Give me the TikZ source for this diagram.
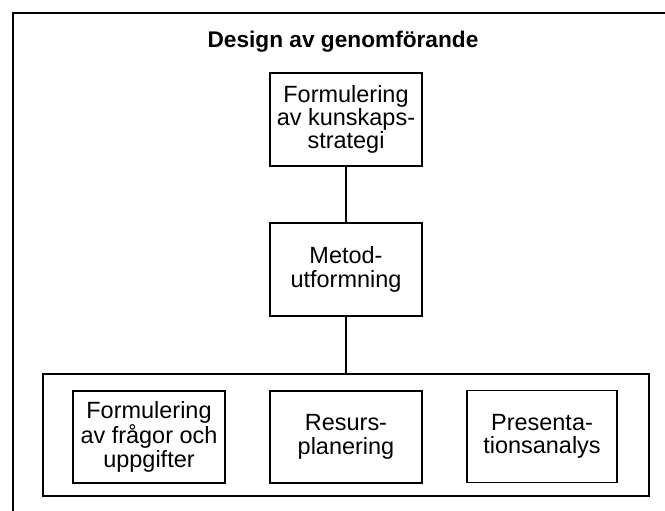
\documentclass[tikz,border=0pt]{standalone}
\usepackage{fontspec}
\setmainfont{Liberation Sans}
\begin{document}
\begin{tikzpicture}[x=0.75pt,y=-0.75pt,
  frame/.style={line width=1.5pt},
  stepbox/.style={draw, line width=1.2pt, minimum width=114pt, minimum height=69.5pt,
    inner sep=0pt, align=center, font=\fontsize{17.6}{17.5}\selectfont},
  groupbox/.style={draw, line width=1.2pt, minimum width=454.5pt, minimum height=91.5pt, inner sep=0pt},
  link/.style={line width=1pt},
  heading/.style={font=\fontsize{17}{20}\selectfont\bfseries, inner sep=0pt}]
  \useasboundingbox (0,0) rectangle (665,511);

  % open outer frame, running past the page edges
  \draw[frame] (13,520) -- (13,13) -- (675,13);

  \node[heading, anchor=base] (title) at (343,47) {Design av genomförande};

  \node[stepbox] (strategy) at (346,119.5) {Formulering\\av kunskaps-\\strategi};
  \node[stepbox] (method) at (346,269.5) {Metod-\\utformning};

  \node[groupbox] (group) at (346,435) {};
  \node[stepbox, minimum height=69pt] (questions) at (149,437) {Formulering\\av frågor och\\uppgifter};
  \node[stepbox, minimum height=69pt] (resources) at (346,437) {Resurs-\\planering};
  \node[stepbox, minimum height=69pt, minimum width=112.5pt] (presentation) at (542,436.5) {Presenta-\\tionsanalys};

  \draw[link] (strategy.south) -- (method.north);
  \draw[link] (method.south) -- (group.north);
\end{tikzpicture}
\end{document}
